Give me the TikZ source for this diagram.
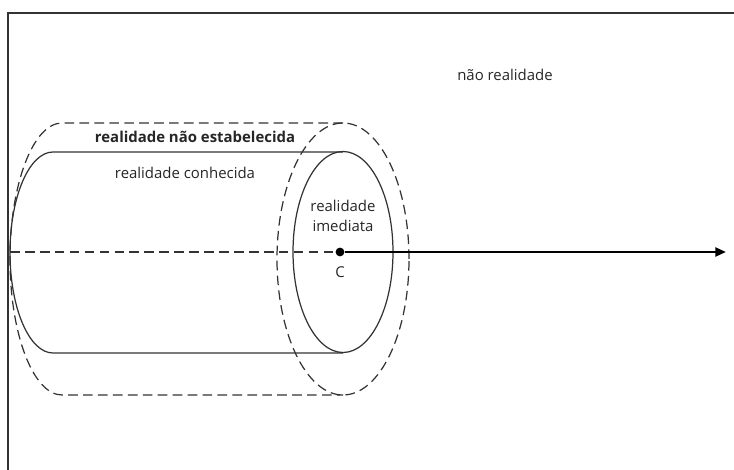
\documentclass[tikz,border=0pt]{standalone}
\usepackage{fontspec}
\setmainfont{Open Sans}
\usetikzlibrary{arrows.meta}
\definecolor{linegray}{gray}{0.2}
\begin{document}
\begin{tikzpicture}[x=0.02cm,y=0.02cm]
\tikzstyle{every node}+=[inner sep=0pt,font=\fontsize{8.5}{11}\selectfont,text=black!85]
\tikzstyle{dashline}=[linegray,line width=0.7pt,dash pattern=on 5.5pt off 3pt]
\tikzstyle{solidline}=[linegray,line width=0.7pt]
\useasboundingbox (0,0) rectangle (734,470);
% frame
\draw [linegray,line width=0.8pt] (734,457) -- (8,457) -- (8,0);
% outer dashed cylinder
\draw [dashline] (343,347) -- (62,347) arc (90:270:52 and 136) -- (343,75);
\draw [dashline] (343,211) ellipse (66 and 136);
% inner solid cylinder
\draw [solidline] (343,318) -- (53,318) arc (90:270:43 and 100.5) -- (343,117);
\draw [solidline] (343,218) ellipse (50 and 100.5);
% labels
\node (naoreal) at (505,395) {não realidade};
\node (estab) at (195,333) {\bfseries realidade não estabelecida};
\node (conhec) at (185,297) {realidade conhecida};
\node [align=center] (imed) at (343,254) {realidade\\imediata};
\node [circle,fill=black,minimum size=5pt] (c) at (340,218) {};
\node [below=8pt] (clabel) at (c) {C};
\coordinate (axisL) at (10,218);
\coordinate (axisR) at (726,218);
\draw [dashline] (axisL) -- (c);
\draw [black,line width=1.4pt,-{Triangle[length=6pt,width=5pt]}] (c) -- (axisR);
\end{tikzpicture}
\end{document}
